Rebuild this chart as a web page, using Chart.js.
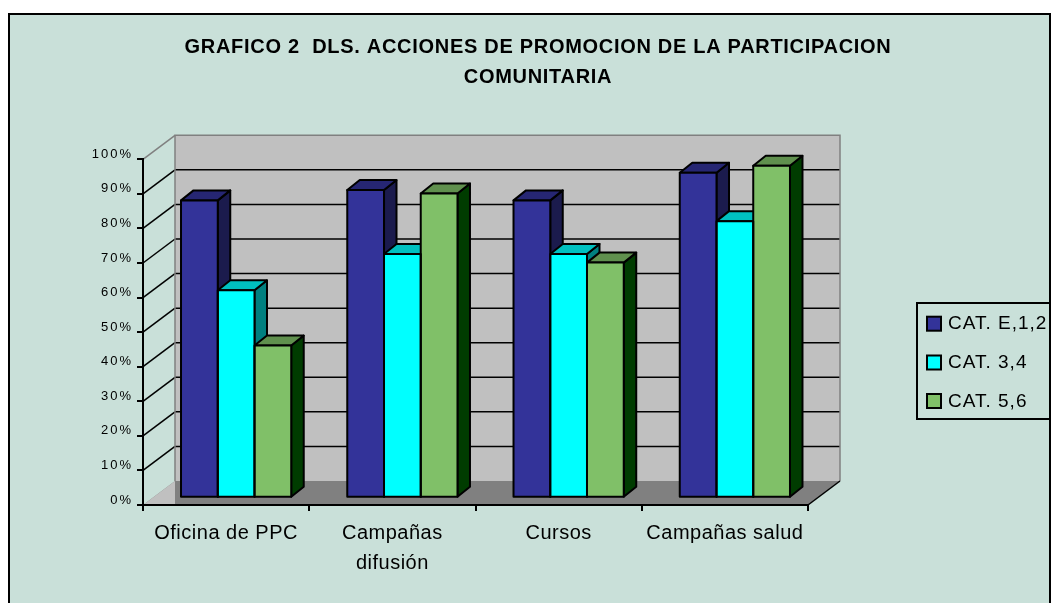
<!DOCTYPE html>
<html>
<head>
<meta charset="utf-8">
<script src="https://cdn.jsdelivr.net/npm/chart.js@4.4.1/dist/chart.umd.min.js"></script>
<style>
html,body{margin:0;padding:0;background:#fff;}
canvas{display:block;}
</style>
</head>
<body>
<canvas id="c" width="1055" height="603"></canvas>
<script>
// ---------- data ----------
const categories = ['Oficina de PPC', ['Campañas', 'difusión'], 'Cursos', 'Campañas salud'];
const seriesNames = ['CAT. E,1,2', 'CAT. 3,4', 'CAT. 5,6'];
const catE12 = [86, 89, 86, 94];
const cat34 = [60, 70.5, 70.5, 80];
const cat56 = [44, 88, 68, 96];
const yTickLabels = ['0%', '10%', '20%', '30%', '40%', '50%', '60%', '70%', '80%', '90%', '100%'];
const titleLines = ['GRAFICO 2  DLS. ACCIONES DE PROMOCION DE LA PARTICIPACION', 'COMUNITARIA'];

// ---------- styles ----------
const FONT = '"Liberation Sans", Arial, Helvetica, sans-serif';
const BG = '#C9E0D9';
const frontColors = ['#333399', '#00FFFF', '#80C068'];
const topColors = ['#262673', '#00C0C0', '#60904E'];
const sideColors = ['#1B1B4D', '#008080', '#003C00'];
const WALL = { dx: 32, dy: -24 };
const BAR_SHIFT = { dx: 10, dy: -7.3 };
const BAR_DEPTH = { dx: 12.5, dy: -10 };
const SPACING = { title: '0.7px', x: '0.5px', y: '2px', legend: '1px' };

function poly(ctx, pts, fill, stroke, lw) {
  ctx.beginPath();
  ctx.moveTo(pts[0][0], pts[0][1]);
  for (let i = 1; i < pts.length; i++) ctx.lineTo(pts[i][0], pts[i][1]);
  ctx.closePath();
  if (fill) { ctx.fillStyle = fill; ctx.fill(); }
  if (stroke) { ctx.strokeStyle = stroke; ctx.lineWidth = lw || 1; ctx.stroke(); }
}
function line(ctx, x1, y1, x2, y2, color, lw) {
  ctx.beginPath();
  ctx.moveTo(x1, y1); ctx.lineTo(x2, y2);
  ctx.strokeStyle = color; ctx.lineWidth = lw; ctx.stroke();
}
function spaceLabels(scale, spacing) {
  if (!scale || scale._spacedLabels) return;
  const orig = scale.drawLabels;
  scale.drawLabels = function (area) {
    const c = this.ctx;
    const prev = c.letterSpacing;
    c.letterSpacing = spacing;
    orig.call(this, area);
    c.letterSpacing = prev;
  };
  scale._spacedLabels = true;
}

const scene3d = {
  id: 'scene3d',
  afterUpdate(chart) {
    spaceLabels(chart.scales.x, SPACING.x);
    spaceLabels(chart.scales.y, SPACING.y);
  },
  beforeDraw(chart) {
    const ctx = chart.ctx;
    const { left, right } = chart.chartArea;
    const ys = chart.scales.y;
    const dx = WALL.dx, dy = WALL.dy;
    ctx.save();
    ctx.fillStyle = '#fff';
    ctx.fillRect(0, 0, chart.width, chart.height);
    ctx.fillStyle = BG;
    ctx.fillRect(9, 14, 1041, 700);
    ctx.lineWidth = 2; ctx.strokeStyle = '#000';
    ctx.strokeRect(9, 14, 1041, 700);

    const y0 = ys.getPixelForValue(ys.min);
    const yTop = ys.getPixelForValue(ys.max);
    // back wall
    poly(ctx, [[left + dx, yTop + dy], [right + dx, yTop + dy], [right + dx, y0 + dy], [left + dx, y0 + dy]], '#C0C0C0');
    // floor
    poly(ctx, [[left, y0], [right, y0], [right + dx, y0 + dy], [left + dx, y0 + dy]], '#808080');
    poly(ctx, [[left, y0], [left + dx, y0 + dy], [left + dx, y0]], '#C0C0C0');
    // gridlines on back wall and side wall
    ys.ticks.forEach(t => {
      if (t.value <= ys.min || t.value >= ys.max) return;
      const yp = ys.getPixelForValue(t.value);
      line(ctx, left + dx, yp + dy, right + dx, yp + dy, '#000', 1.5);
      line(ctx, left, yp, left + dx, yp + dy, '#000', 1.5);
    });
    // wall edges
    line(ctx, left, yTop, left + dx, yTop + dy, '#808080', 1.5);
    ctx.beginPath();
    ctx.moveTo(left + dx, y0 + dy);
    ctx.lineTo(left + dx, yTop + dy);
    ctx.lineTo(right + dx, yTop + dy);
    ctx.lineTo(right + dx, y0 + dy);
    ctx.strokeStyle = '#808080'; ctx.lineWidth = 1.5; ctx.stroke();
    line(ctx, right, y0, right + dx, y0 + dy, '#000', 1.5);
    ctx.restore();
    ctx.letterSpacing = SPACING.title;
  },
  beforeDatasetsDraw(chart) {
    const ctx = chart.ctx;
    ctx.save();
    ctx.translate(BAR_SHIFT.dx, BAR_SHIFT.dy);
    ctx.lineJoin = 'round';
    const n = chart.data.labels.length;
    for (let i = 0; i < n; i++) {
      chart.data.datasets.forEach((ds, d) => {
        const el = chart.getDatasetMeta(d).data[i];
        const p = el.getProps(['x', 'y', 'base', 'width'], true);
        const l = p.x - p.width / 2, r = p.x + p.width / 2;
        const bx = BAR_DEPTH.dx, by = BAR_DEPTH.dy;
        poly(ctx, [[r, p.y], [r + bx, p.y + by], [r + bx, p.base + by], [r, p.base]], sideColors[d], '#000', 2);
        poly(ctx, [[l, p.y], [r, p.y], [r + bx, p.y + by], [l + bx, p.y + by]], topColors[d], '#000', 2);
      });
    }
  },
  afterDatasetsDraw(chart) {
    const ctx = chart.ctx;
    chart.data.datasets.forEach((ds, d) => {
      chart.getDatasetMeta(d).data.forEach(el => {
        const p = el.getProps(['x', 'y', 'base', 'width'], true);
        ctx.lineWidth = 2; ctx.strokeStyle = '#000';
        ctx.strokeRect(p.x - p.width / 2, p.y, p.width, p.base - p.y);
      });
    });
    ctx.restore();
  },
  afterDraw(chart) {
    const ctx = chart.ctx;
    ctx.save();
    ctx.letterSpacing = SPACING.legend;
    ctx.lineWidth = 2; ctx.strokeStyle = '#000';
    ctx.strokeRect(917, 303, 133, 116);
    const rows = [323.7, 362.5, 401];
    chart.data.datasets.forEach((ds, d) => {
      const cy = rows[d];
      ctx.fillStyle = ds.backgroundColor;
      ctx.fillRect(927, cy - 7, 14, 14);
      ctx.lineWidth = 2; ctx.strokeStyle = '#000';
      ctx.strokeRect(927, cy - 7, 14, 14);
      ctx.fillStyle = '#000';
      ctx.font = '19px ' + FONT;
      ctx.textAlign = 'left'; ctx.textBaseline = 'middle';
      ctx.fillText(ds.label, 948, cy + 0.5);
    });
    ctx.restore();
  }
};

new Chart(document.getElementById('c'), {
  type: 'bar',
  data: {
    labels: categories,
    datasets: [
      { label: seriesNames[0], data: catE12, backgroundColor: frontColors[0] },
      { label: seriesNames[1], data: cat34, backgroundColor: frontColors[1] },
      { label: seriesNames[2], data: cat56, backgroundColor: frontColors[2] }
    ].map(ds => Object.assign(ds, { xAxisID: 'x', yAxisID: 'y', borderWidth: 0, clip: false,
      barPercentage: 1, categoryPercentage: 0.663 }))
  },
  options: {
    responsive: false,
    animation: false,
    events: [],
    layout: { padding: { top: 32, left: 21, right: 0, bottom: 0 } },
    plugins: {
      legend: { display: false },
      tooltip: { enabled: false },
      title: {
        display: true,
        text: titleLines,
        color: '#000',
        font: { family: FONT, size: 20, weight: 'bold', lineHeight: 30 / 20 },
        padding: { top: 0, bottom: 67.3 }
      }
    },
    scales: {
      x: {
        type: 'category',
        position: 'bottom',
        grid: { display: true, drawOnChartArea: false, drawTicks: true, tickLength: 6, color: '#000', lineWidth: 2, offset: true },
        border: { display: true, color: '#000', width: 2 },
        ticks: { color: '#000', font: { family: FONT, size: 20, lineHeight: 30 / 20 }, padding: 7,
          autoSkip: false, maxRotation: 0, minRotation: 0 },
        afterFit: s => { s.height = 98; }
      },
      y: {
        type: 'linear',
        position: 'left',
        min: 0, max: 100,
        grid: { display: true, drawOnChartArea: false, drawTicks: true, tickLength: 6, color: '#000', lineWidth: 2 },
        border: { display: true, color: '#000', width: 2 },
        ticks: { stepSize: 10, color: '#000', font: { family: FONT, size: 13 }, padding: 4, labelOffset: -5,
          callback: (v, i) => yTickLabels[i] },
        afterFit: s => { s.width = 122; }
      },
      yR: {
        type: 'linear',
        position: 'right',
        display: true,
        grid: { display: false },
        border: { display: false },
        ticks: { display: false },
        afterFit: s => { s.width = 247; }
      }
    }
  },
  plugins: [scene3d]
});
</script>
</body>
</html>
